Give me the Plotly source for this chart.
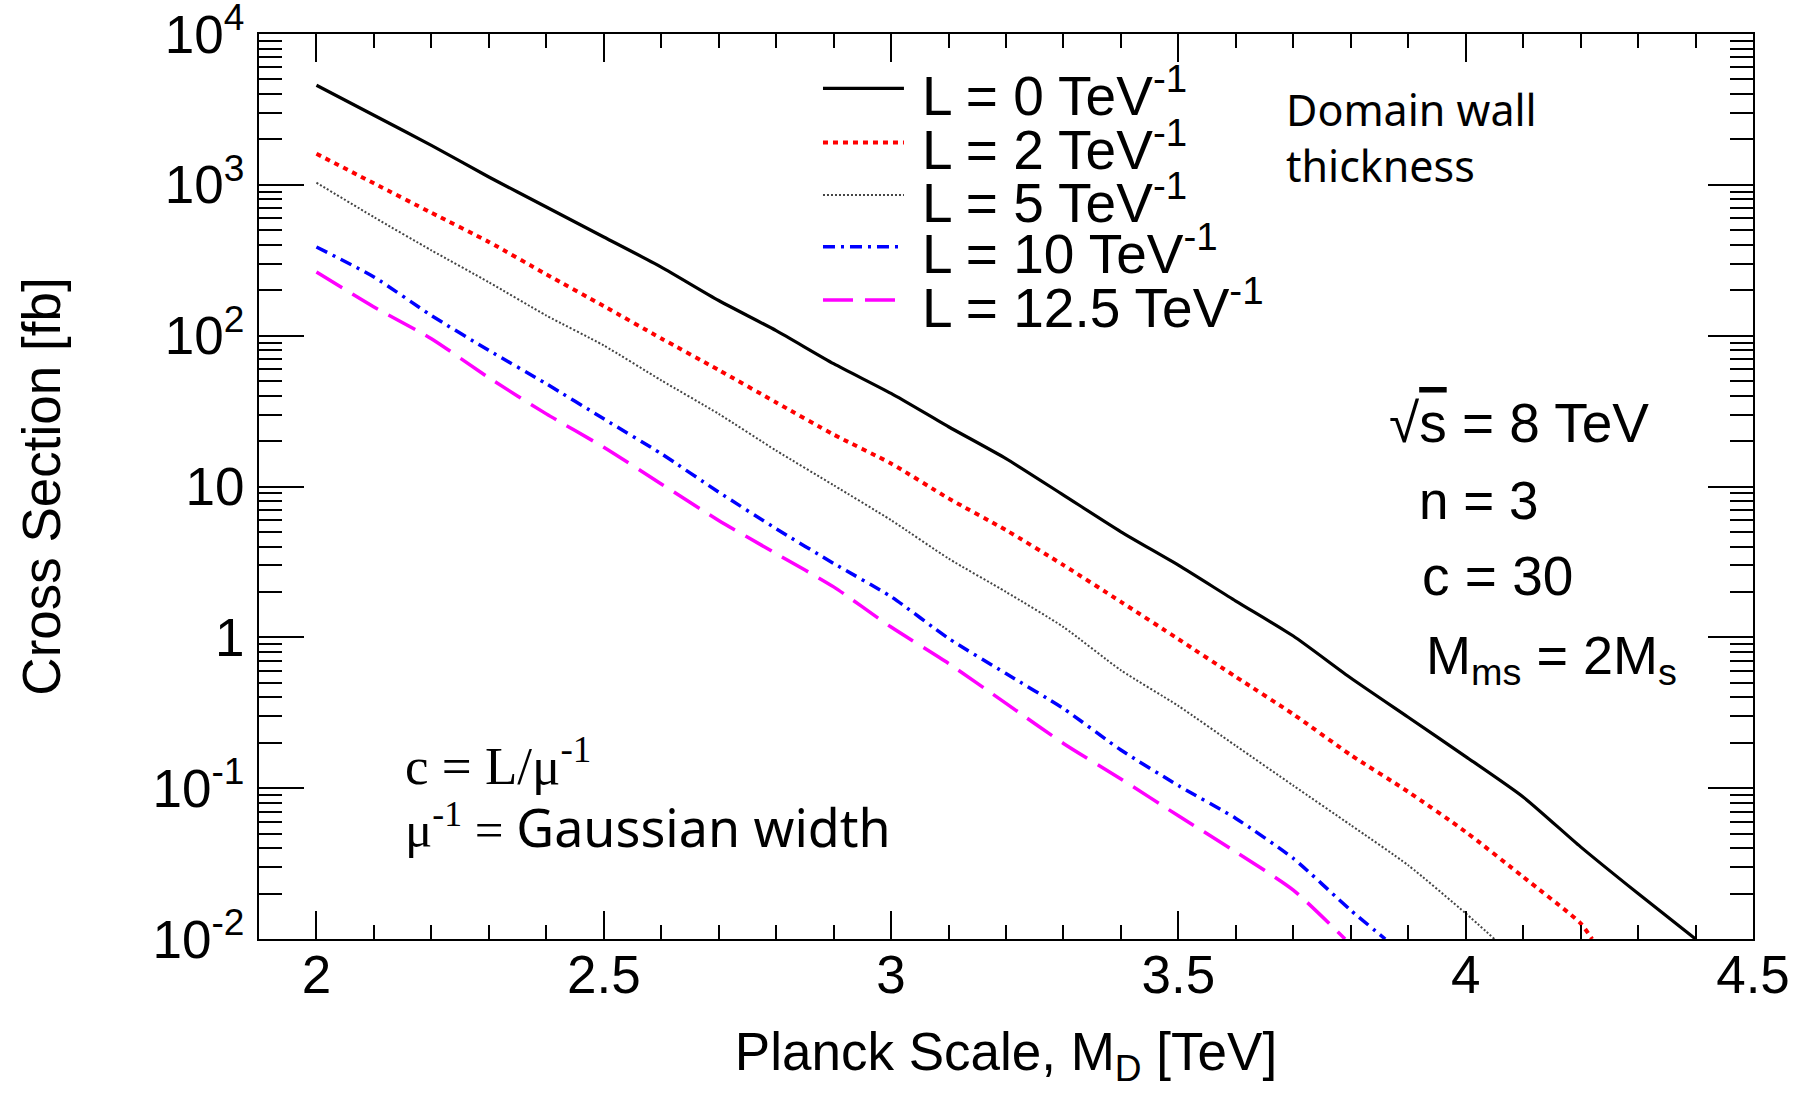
import plotly.graph_objects as go

# ---- data ----
x_L0 = [2.0, 2.1, 2.2, 2.3, 2.4, 2.5, 2.6, 2.7, 2.8, 2.9, 3.0, 3.1, 3.2, 3.3, 3.4,
        3.5, 3.6, 3.7, 3.8, 3.9, 4.0, 4.1, 4.2, 4.3, 4.4]
y_L0 = [4571, 2891, 1828, 1127, 713, 451, 285, 171, 108, 65.2, 41.4, 24.9, 15.3,
        8.77, 5.01, 3.01, 1.74, 1.02, 0.537, 0.295, 0.162, 0.0875, 0.0408, 0.0200, 0.0100]

x_L2 = [2.0, 2.1, 2.2, 2.3, 2.4, 2.5, 2.6, 2.7, 2.8, 2.9, 3.0, 3.1, 3.2, 3.3, 3.4,
        3.5, 3.6, 3.7, 3.8, 3.9, 4.0, 4.1, 4.2, 4.22]
y_L2 = [1607, 1023, 653, 418, 255, 157, 95.9, 59.2, 36.1, 22.1, 14.2, 8.34, 5.14,
        3.01, 1.72, 0.973, 0.547, 0.309, 0.166, 0.0946, 0.0513, 0.0258, 0.0127, 0.0100]

x_L5 = [2.0, 2.1, 2.2, 2.3, 2.4, 2.5, 2.6, 2.7, 2.8, 2.9, 3.0, 3.1, 3.2, 3.3, 3.4,
        3.5, 3.6, 3.7, 3.8, 3.9, 4.0, 4.05]
y_L5 = [1033, 611, 368, 226, 136, 86.1, 50.6, 30.3, 17.3, 10.2, 5.98, 3.33, 2.00,
        1.17, 0.605, 0.351, 0.191, 0.104, 0.0569, 0.0308, 0.0148, 0.0100]

x_L10 = [2.0, 2.1, 2.2, 2.3, 2.4, 2.5, 2.6, 2.7, 2.8, 2.9, 3.0, 3.1, 3.2, 3.3, 3.4,
         3.5, 3.6, 3.7, 3.8, 3.86]
y_L10 = [387, 245, 136, 79.8, 48.0, 28.1, 16.5, 9.18, 5.25, 3.09, 1.86, 0.984, 0.575,
         0.337, 0.179, 0.104, 0.0630, 0.0342, 0.0155, 0.0100]

x_L125 = [2.0, 2.1, 2.2, 2.3, 2.4, 2.5, 2.6, 2.7, 2.8, 2.9, 3.0, 3.1, 3.2, 3.3, 3.4,
          3.5, 3.6, 3.7, 3.79]
y_L125 = [264, 155, 95.5, 52.6, 30.3, 18.2, 10.4, 5.96, 3.59, 2.16, 1.17, 0.671, 0.365,
          0.198, 0.115, 0.0656, 0.0378, 0.0211, 0.0100]

series_names = ["L = 0 TeV<sup>-1</sup>", "L = 2 TeV<sup>-1</sup>", "L = 5 TeV<sup>-1</sup>",
                "L = 10 TeV<sup>-1</sup>", "L = 12.5 TeV<sup>-1</sup>"]

x_tickvals = [2, 2.5, 3, 3.5, 4, 4.5]
x_ticktext = ["2", "2.5", "3", "3.5", "4", "4.5"]
y_tickvals = [1e-2, 1e-1, 1, 10, 1e2, 1e3, 1e4]
y_ticktext = ["10<sup>-2</sup>", "10<sup>-1</sup>", "1", "10", "10<sup>2</sup>",
              "10<sup>3</sup>", "10<sup>4</sup>"]

# ---- styles ----
styles = [
    dict(color="#000000", width=3.2, dash="solid"),
    dict(color="#ff0000", width=4, dash="5px,5px"),
    dict(color="#444444", width=2, dash="2px,2px"),
    dict(color="#0000ff", width=3.5, dash="12px,6px,3px,6px"),
    dict(color="#ff00ff", width=3.5, dash="30px,12px"),
]

fig = go.Figure()
for xs, ys, name, st in zip([x_L0, x_L2, x_L5, x_L10, x_L125],
                            [y_L0, y_L2, y_L5, y_L10, y_L125],
                            series_names, styles):
    fig.add_trace(go.Scatter(x=xs, y=ys, mode="lines", name=name,
                             line=dict(shape="spline", smoothing=0.6, **st),
                             showlegend=False))

FONT = "Liberation Sans, Arial, sans-serif"
COMIC = "Noto Sans, sans-serif"
SERIF = "Liberation Serif, Times New Roman, serif"

x_minor = [round(2.0 + 0.1 * i, 1) for i in range(25)]
x_minor = [v for v in x_minor if v not in x_tickvals]
y_minor = [k * 10.0 ** e for e in range(-2, 4) for k in range(2, 10)]

fig.update_layout(
    width=1806, height=1098, autosize=False,
    paper_bgcolor="white", plot_bgcolor="white",
    margin=dict(l=259, r=53, t=34, b=159),
    font=dict(family=FONT, color="black", size=50),
    showlegend=False,
    xaxis=dict(range=[1.9, 4.5], tickvals=x_tickvals, ticktext=x_ticktext,
               ticks="inside", ticklen=28, tickwidth=1.5, tickcolor="black",
               minor=dict(tickvals=x_minor, ticks="inside", ticklen=14,
                          tickwidth=1.5, tickcolor="black", showgrid=False),
               showline=True, linewidth=2, linecolor="black", mirror="allticks",
               showgrid=False, zeroline=False, ticklabelstandoff=-12,
               automargin=False,
               tickfont=dict(family=FONT, size=53),
               title=dict(text="Planck Scale, M<sub>D</sub> [TeV]",
                          font=dict(family=FONT, size=53), standoff=30)),
    yaxis=dict(type="log", range=[-2, 4], tickvals=y_tickvals, ticktext=y_ticktext,
               ticks="inside", ticklen=45, tickwidth=1.5, tickcolor="black",
               minor=dict(tickvals=y_minor, ticks="inside", ticklen=23,
                          tickwidth=1.5, tickcolor="black", showgrid=False),
               showline=True, linewidth=2, linecolor="black", mirror="allticks",
               showgrid=False, zeroline=False, ticklabeloverflow="allow",
               ticklabelstandoff=2, automargin=False,
               tickfont=dict(family=FONT, size=53),
               title=dict(text="Cross Section [fb]",
                          font=dict(family=FONT, size=53), standoff=75)),
)

# ---- legend (drawn in paper space, ROOT-style) ----
leg_x0, leg_x1, leg_tx = 0.3775, 0.4317, 0.4425
leg_rows = [0.940, 0.880, 0.822, 0.765, 0.706]
for name, st, ly in zip(series_names, styles, leg_rows):
    fig.add_shape(type="line", xref="paper", yref="paper", x0=leg_x0, x1=leg_x1,
                  y0=ly, y1=ly, line=dict(color=st["color"], width=st["width"], dash=st["dash"]))
    fig.add_annotation(xref="paper", yref="paper", x=leg_tx, y=ly - 0.004, text=name,
                       xanchor="left", yanchor="middle", showarrow=False,
                       height=54, valign="middle",
                       font=dict(family=FONT, size=55))

ann = [
    dict(text="Domain wall<br>thickness", x=0.686, y=0.886, font=dict(family=COMIC, size=43)),
    dict(text="√<span style='text-decoration:overline'>s</span> = 8 TeV", x=0.755, y=0.570,
         font=dict(family=FONT, size=55)),
    dict(text="n = 3", x=0.775, y=0.484, font=dict(family=FONT, size=53)),
    dict(text="c = 30", x=0.777, y=0.401, font=dict(family=FONT, size=55)),
    dict(text="M<sub>ms</sub> = 2M<sub>s</sub>", x=0.780, y=0.309, font=dict(family=FONT, size=54)),
    dict(text="c = L/μ<sup>-1</sup>", x=0.0964, y=0.196, font=dict(family=SERIF, size=53)),
    dict(text="μ<sup>-1</sup> = <span style='font-family:Noto Sans;font-size:52px'>Gaussian width</span>",
         x=0.0964, y=0.124, font=dict(family=SERIF, size=51)),
]
for a in ann:
    fig.add_annotation(xref="paper", yref="paper", xanchor="left", yanchor="middle",
                       showarrow=False, align="left", **a)

fig.write_html("out.html", config={"displayModeBar": False},
               post_script="document.body.style.margin='0';document.body.style.overflow='hidden';")
